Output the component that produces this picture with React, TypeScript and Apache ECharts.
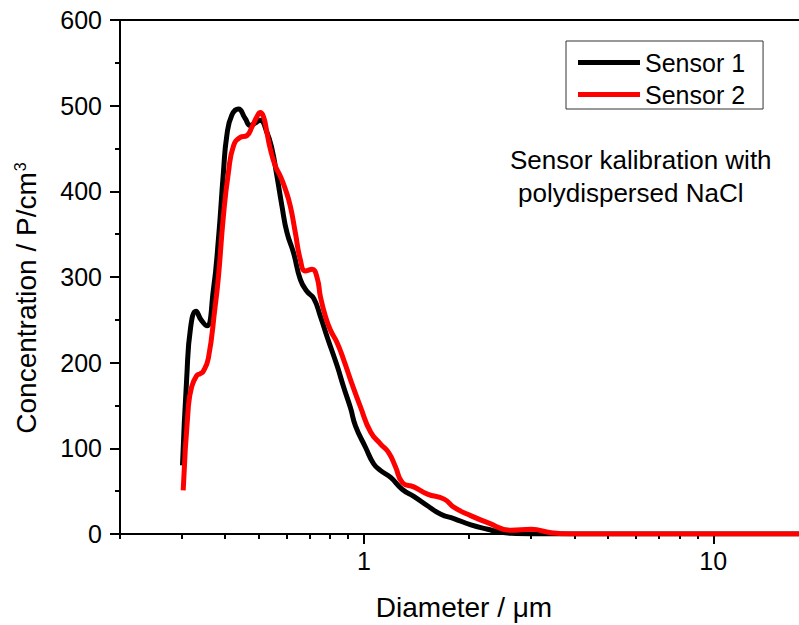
import React, { useEffect, useRef } from "react";
import * as echarts from "echarts";

const FONT = "Arial, 'Liberation Sans', Helvetica, sans-serif";

// Sensor 1 (black)
const sensor1Diameter = [
  0.302, 0.3105, 0.3188, 0.3302, 0.3412, 0.3543,
  0.3702, 0.3827, 0.3955, 0.4045, 0.4182, 0.4368, 0.4566, 0.472, 0.4932,
  0.5041, 0.5268, 0.5445, 0.5628, 0.5817, 0.6013, 0.6283, 0.657, 0.6868, 0.7175,
  0.7499, 0.7839, 0.8376, 0.8747, 0.9146, 0.9453, 1.01, 1.0649, 1.1153, 1.1915,
  1.2876, 1.3875, 1.5189, 1.6591, 1.8077, 2.0232, 2.2594, 2.4667, 2.7246, 3.0089,
  4.78, 9.27, 17.6,
];
const sensor1Conc = [
  80, 182, 242, 260, 250, 243,
  285, 344, 422, 465, 489, 496, 485, 477, 481,
  483, 469, 450, 418, 383, 352, 328, 297, 283, 275,
  254, 230, 196, 171, 147, 126, 101, 82, 74, 66,
  52, 44, 33, 23, 18, 10.6, 5.5, 2, 0.5, 0,
  0, 0, 0,
];

// Sensor 2 (red)
const sensor2Diameter = [
  0.3034, 0.3138, 0.3209, 0.3317, 0.339, 0.3465, 0.3581,
  0.3744, 0.3827, 0.3955, 0.4088, 0.4226, 0.4418, 0.4618, 0.4772, 0.4932, 0.5041,
  0.5153, 0.5268, 0.5384, 0.5565, 0.5753, 0.5946, 0.6146, 0.6354, 0.657, 0.6791,
  0.7099, 0.7338, 0.7499, 0.7751, 0.801, 0.8376, 0.8747, 0.9146, 0.977, 1.044,
  1.1153, 1.176, 1.2314, 1.2876, 1.3875, 1.5189, 1.6958, 1.8113, 1.9801, 2.2594,
  2.6363, 3.0089, 3.4357, 3.9219, 9.27, 17.6,
];
const sensor2Conc = [
  51, 148, 172, 185, 187, 190, 205,
  265, 300, 371, 422, 453, 463, 465, 475, 487, 492,
  487, 469, 450, 430, 418, 403, 383, 352, 320, 307,
  309, 299, 277, 254, 238, 223, 203, 180, 148, 119,
  105, 95, 78, 60, 55, 46.6, 40.7, 31, 23, 13.3,
  4.3, 5.5, 1.5, 0, 0, 0,
];

const minorTickValues = [0.2, 0.3, 0.4, 0.5, 0.6, 0.7, 0.8, 0.9, 2, 3, 4, 5, 6, 7, 8, 9];
const majorTickValues = [1, 10];
const seriesNames = ["Sensor 1", "Sensor 2"];
const seriesColors = ["#000000", "#ff0000"];

const X_MIN = 0.2;
const X_MAX = 17.6;

function zip(xs: number[], ys: number[]) {
  return xs.map((x, i) => [x, ys[i]]);
}

export default function App() {
  const ref = useRef<HTMLDivElement>(null);
  useEffect(() => {
    if (!ref.current) return;
    const chart = echarts.init(ref.current, null, { renderer: "svg" });
    const axisLine = { show: true, lineStyle: { color: "#000", width: 2 } };
    chart.setOption({
      animation: false,
      backgroundColor: "#fff",
      grid: { left: 120, right: 0, top: 20, bottom: 91, containLabel: false },
      xAxis: [
        {
          type: "log",
          logBase: 10,
          min: X_MIN,
          max: X_MAX,
          position: "bottom",
          axisLine,
          axisTick: {
            show: true,
            customValues: minorTickValues,
            length: 5,
            inside: false,
            lineStyle: { color: "#000", width: 2 },
          },
          axisLabel: {
            customValues: majorTickValues,
            color: "#000",
            fontSize: 25,
            fontFamily: FONT,
            margin: 14,
          },
          splitLine: { show: false },
          minorTick: { show: false },
        },
        {
          type: "log",
          logBase: 10,
          min: X_MIN,
          max: X_MAX,
          position: "bottom",
          axisLine: { show: false },
          axisTick: {
            show: true,
            customValues: majorTickValues,
            length: 10,
            inside: false,
            lineStyle: { color: "#000", width: 2 },
          },
          axisLabel: { show: false },
          splitLine: { show: false },
        },
        {
          type: "log",
          logBase: 10,
          min: X_MIN,
          max: X_MAX,
          position: "top",
          axisLine,
          axisTick: { show: false },
          axisLabel: { show: false },
          splitLine: { show: false },
        },
      ],
      yAxis: {
        type: "value",
        min: 0,
        max: 600,
        interval: 100,
        axisLine,
        axisTick: { show: true, length: 10, inside: false, lineStyle: { color: "#000", width: 2 } },
        minorTick: { show: true, splitNumber: 2, length: 5, lineStyle: { color: "#000", width: 2 } },
        axisLabel: { color: "#000", fontSize: 25, fontFamily: FONT, margin: 18 },
        splitLine: { show: false },
      },
      legend: {
        orient: "vertical",
        left: 566,
        top: 41,
        padding: [9, 18, 2, 12],
        itemGap: 7,
        itemWidth: 62,
        itemHeight: 25,
        icon: "path://M0 0H62V5H0Z",
        borderColor: "#333",
        borderWidth: 1,
        textStyle: { color: "#000", fontSize: 25, fontFamily: FONT },
        data: seriesNames,
      },
      graphic: [
        {
          type: "text",
          x: 510,
          y: 160,
          style: {
            text: "Sensor kalibration with",
            fill: "#000",
            font: `26px ${FONT}`,
            align: "left",
            verticalAlign: "middle",
          },
        },
        {
          type: "text",
          x: 518,
          y: 193,
          style: {
            text: "polydispersed NaCl",
            fill: "#000",
            font: `26px ${FONT}`,
            align: "left",
            verticalAlign: "middle",
          },
        },
        {
          type: "text",
          x: 464,
          y: 607,
          style: {
            text: "Diameter / \u03bcm",
            fill: "#000",
            font: `28px ${FONT}`,
            align: "center",
            verticalAlign: "middle",
          },
        },
        {
          type: "text",
          x: 26,
          y: 298,
          rotation: Math.PI / 2,
          style: {
            text: "Concentration / P/cm{sup|3}",
            fill: "#000",
            fontSize: 28,
            fontFamily: FONT,
            align: "center",
            verticalAlign: "middle",
            rich: {
              sup: {
                fontSize: 16,
                fontFamily: FONT,
                fill: "#000",
                verticalAlign: "top",
                padding: [0, 0, 0, 1],
              },
            },
          },
        },
      ],
      series: [
        {
          name: seriesNames[0],
          type: "line",
          xAxisIndex: 0,
          data: zip(sensor1Diameter, sensor1Conc),
          smooth: 0.5,
          symbol: "none",
          showSymbol: false,
          lineStyle: { color: seriesColors[0], width: 5 },
          itemStyle: { color: seriesColors[0] },
          z: 3,
        },
        {
          name: seriesNames[1],
          type: "line",
          xAxisIndex: 0,
          data: zip(sensor2Diameter, sensor2Conc),
          smooth: 0.5,
          symbol: "none",
          showSymbol: false,
          lineStyle: { color: seriesColors[1], width: 5 },
          itemStyle: { color: seriesColors[1] },
          z: 4,
        },
      ],
    });
    return () => chart.dispose();
  }, []);
  return (
    <div
      ref={ref}
      style={{ position: "absolute", left: 0, top: 0, width: 799, height: 625, background: "#fff" }}
    />
  );
}
